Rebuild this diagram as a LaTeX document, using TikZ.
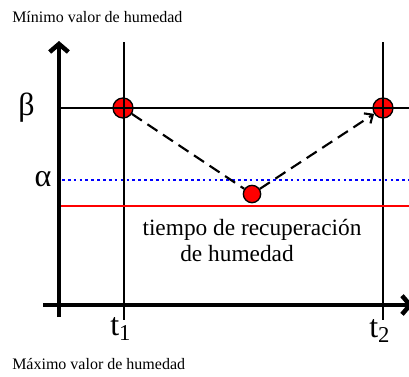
\documentclass[tikz,border=0pt]{standalone}
\usepackage{fontspec}
\setmainfont{Liberation Serif}
\usetikzlibrary{arrows.meta}

\tikzset{
  axis/.style={line width=3.4pt, -{Straight Barb[length=6pt,width=14pt]}},
  gridline/.style={line width=1.5pt},
  dot/.style={circle, draw=black, line width=1pt, fill=red, minimum size=15pt, inner sep=0pt},
  recovery/.style={line width=1.6pt, dash pattern=on 9pt off 5pt},
  biglabel/.style={font=\fontsize{24}{28}\selectfont, inner sep=0pt},
  midlabel/.style={font=\fontsize{17.5}{21}\selectfont, inner sep=0pt, anchor=base},
  smalllabel/.style={font=\fontsize{12}{14}\selectfont, inner sep=0pt, anchor=base west}
}
\newcommand{\subidx}[1]{\raisebox{-3.75pt}{\fontsize{17}{20}\selectfont #1}}

\begin{document}
\begin{tikzpicture}[x=0.75pt, y=-0.75pt]
  \clip (0,0) rectangle (409,376);
  % puntos de humedad
  \node[dot] (A) at (123,108) {};
  \node[dot] (B) at (383,108) {};
  \node[dot, minimum size=13pt] (C) at (252,194) {};
  % lineas de referencia
  \draw[gridline] (124,42) -- (124,320);
  \draw[gridline] (383,42) -- (383,320);
  \draw[gridline] (59,108) -- (409,108);
  \draw[line width=2pt, blue, dash pattern=on 2pt off 2.4pt] (62,180) -- (409,180);
  \draw[line width=1.5pt, red] (59,205.5) -- (409,205.5);
  % ejes
  \coordinate (ybot) at (59,317);
  \coordinate (ytop) at (59,41);
  \coordinate (xleft) at (43,305);
  \coordinate (xright) at (413,305);
  \draw[axis] (ybot) -- (ytop);
  \draw[axis] (xleft) -- (xright);
  % recuperacion
  \draw[recovery] (A) -- (C);
  \draw[recovery, -{Straight Barb[length=5pt,width=9pt]}] (C) -- (B);
  % textos
  \node[smalllabel] (minval) at (12,22) {Mínimo valor de humedad};
  \node[smalllabel] (maxval) at (12,369) {Máximo valor de humedad};
  \node[biglabel, anchor=base] (beta) at (26.5,115) {β};
  \node[biglabel, anchor=base] (alpha) at (43,186) {α};
  \node[biglabel, anchor=base west] (t1) at (110,335) {t\subidx{1}};
  \node[biglabel, anchor=base west] (t2) at (369,337) {t\subidx{2}};
  \node[midlabel] (recup1) at (252,235) {tiempo de recuperación};
  \node[midlabel] (recup2) at (237,261) {de humedad};
\end{tikzpicture}
\end{document}
